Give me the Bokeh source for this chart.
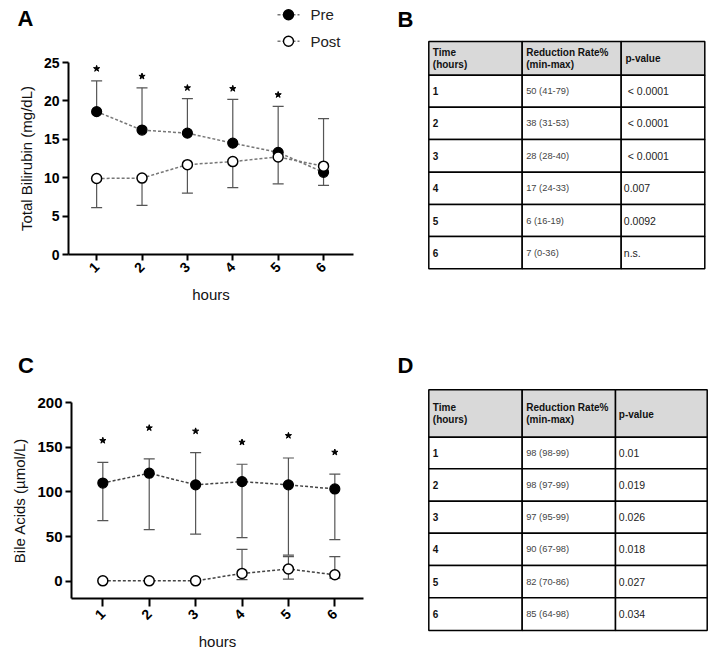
import math
from bokeh.plotting import figure
from bokeh.layouts import column, row
from bokeh.models import Range1d, FixedTicker
from bokeh.embed import file_html
from bokeh.resources import INLINE
from bokeh.core.properties import value

FONT = "Liberation Sans"

# ---------------- data ----------------
hours = [1, 2, 3, 4, 5, 6]
hour_labels = ["1", "2", "3", "4", "5", "6"]
series_names = ["Pre", "Post"]

# Panel A: Total bilirubin (mg/dL)
tb_pre = [18.6, 16.2, 15.8, 14.5, 13.3, 10.7]
tb_pre_lo = [18.6, 16.2, 15.8, 14.5, 13.3, 9.0]
tb_pre_hi = [22.6, 21.7, 20.3, 20.2, 19.3, 10.7]
tb_post = [9.9, 9.95, 11.7, 12.1, 12.7, 11.5]
tb_post_lo = [6.1, 6.4, 8.0, 8.7, 9.2, 11.5]
tb_post_hi = [9.9, 9.95, 11.7, 12.1, 12.7, 17.7]
tb_star_hours = [1, 2, 3, 4, 5]
tb_star_y = [24.2, 23.2, 21.7, 21.6, 20.8]
tb_yticks = [0, 5, 10, 15, 20, 25]

# Panel C: Bile acids (umol/L)
ba_pre = [110.0, 121.0, 108.0, 111.6, 108.0, 103.4]
ba_pre_lo = [68.0, 58.0, 53.0, 49.0, 29.5, 46.7]
ba_pre_hi = [133.0, 137.0, 144.0, 131.0, 138.0, 120.0]
ba_post = [0.7, 0.7, 0.7, 9.0, 13.9, 7.5]
ba_post_lo = [0.7, 0.7, 0.7, 2.0, 2.7, 3.8]
ba_post_hi = [0.7, 0.7, 0.7, 36.0, 27.7, 27.7]
ba_star_hours = [1, 2, 3, 4, 5, 6]
ba_star_y = [157.5, 171.6, 168.0, 155.6, 163.0, 144.4]
ba_yticks = [0, 50, 100, 150, 200]

# Tables
tab_header = [["Time", "(hours)"], ["Reduction Rate%", "(min-max)"], ["p-value"]]
b_time = ["1", "2", "3", "4", "5", "6"]
b_rate = ["50 (41-79)", "38 (31-53)", "28 (28-40)", "17 (24-33)", "6 (16-19)", "7 (0-36)"]
b_p = ["< 0.0001", "< 0.0001", "< 0.0001", "0.007", "0.0092", "n.s."]
d_time = ["1", "2", "3", "4", "5", "6"]
d_rate = ["98 (98-99)", "98 (97-99)", "97 (95-99)", "90 (67-98)", "82 (70-86)", "85 (64-98)"]
d_p = ["0.01", "0.019", "0.026", "0.018", "0.027", "0.034"]

TF = value(FONT)


def caps(xs, means, ends):
    cx, cy = [], []
    for x, m, e in zip(xs, means, ends):
        if abs(m - e) > 1e-9:
            cx.append(x)
            cy.append(e)
    return cx, cy


def blank(width, height):
    p = figure(width=width, height=height, output_backend="svg", toolbar_location=None,
               x_range=Range1d(0, width), y_range=Range1d(height, 0),
               x_axis_location=None, y_axis_location=None)
    p.min_border = 0
    p.min_border_left = p.min_border_right = p.min_border_top = p.min_border_bottom = 0
    p.outline_line_color = None
    p.grid.grid_line_color = None
    return p


def letter(p, x, y, s):
    p.text(x=[x], y=[y], text=[s], text_font=TF, text_font_style="bold",
           text_font_size="22px", text_align="center", text_baseline="middle",
           text_color="black")


def make_header(width, height, letter_xy, legend_xy=None, line_color="#777777"):
    p = blank(width, height)
    letter(p, *letter_xy)
    if legend_xy is not None:
        gx, gy0, gdy = legend_xy
        ys = [gy0, gy0 + gdy]
        p.segment(x0=[gx, gx], y0=ys, x1=[gx + 22, gx + 22], y1=ys,
                  line_color=line_color, line_width=1.5, line_dash="3 2")
        p.scatter([gx + 11, gx + 11], ys, marker="circle", size=10,
                  fill_color=["black", "white"], line_color="black", line_width=1.4)
        p.text(x=[gx + 33, gx + 33], y=ys, text=series_names, text_font=TF,
               text_font_size="15px", text_align="left", text_baseline="middle",
               text_color="#222222")
    return p


def make_chart(width, height, borders, xr, yr, yticks, ylabel, pre, pre_lo, pre_hi,
               post, post_lo, post_hi, star_x, star_y, line_color,
               tick_font="14px", xtick_out=6, xstandoff=4):
    p = figure(width=width, height=height, output_backend="svg", toolbar_location=None,
               x_range=Range1d(*xr), y_range=Range1d(*yr))
    p.min_border_left, p.min_border_right, p.min_border_top, p.min_border_bottom = borders
    p.outline_line_color = None
    p.grid.grid_line_color = None

    p.xaxis.ticker = FixedTicker(ticks=hours)
    p.xaxis.major_label_overrides = {h: l for h, l in zip(hours, hour_labels)}
    p.yaxis.ticker = FixedTicker(ticks=yticks)
    p.xaxis.major_label_orientation = math.pi / 4
    p.axis.axis_line_width = 2
    p.axis.axis_line_color = "black"
    p.axis.major_tick_line_width = 2
    p.axis.major_tick_line_color = "black"
    p.yaxis.major_tick_out = 6
    p.xaxis.major_tick_out = xtick_out
    p.axis.major_tick_in = 0
    p.axis.minor_tick_line_color = None
    p.axis.major_label_text_font = FONT
    p.axis.major_label_text_font_style = "bold"
    p.yaxis.major_label_text_font_size = tick_font
    p.xaxis.major_label_text_font_size = "14px"
    p.axis.major_label_text_color = "black"
    p.yaxis.major_label_standoff = 3
    p.xaxis.major_label_standoff = xstandoff
    p.axis.axis_label_text_font = FONT
    p.axis.axis_label_text_font_style = "normal"
    p.axis.axis_label_text_font_size = "15px"
    p.axis.axis_label_text_color = "#111111"
    p.xaxis.axis_label = "hours"
    p.yaxis.axis_label = ylabel
    p.yaxis.axis_label_standoff = 6
    p.xaxis.axis_label_standoff = 6

    p.line(hours, pre, line_color=line_color, line_width=1.5, line_dash="3 2")
    p.line(hours, post, line_color=line_color, line_width=1.5, line_dash="3 2")

    ebc = "#555555"
    p.segment(x0=hours, y0=pre_lo, x1=hours, y1=pre_hi, line_color=ebc, line_width=1.2)
    p.segment(x0=hours, y0=post_lo, x1=hours, y1=post_hi, line_color=ebc, line_width=1.2)
    for m, e in ((pre, pre_lo), (pre, pre_hi), (post, post_lo), (post, post_hi)):
        cx, cy = caps(hours, m, e)
        p.scatter(cx, cy, marker="dash", size=11, line_color=ebc, line_width=1.2)

    p.scatter(hours, pre, marker="circle", size=10, fill_color="black",
              line_color="black", line_width=1.2)
    p.scatter(hours, post, marker="circle", size=10, fill_color="white",
              line_color="black", line_width=1.5)

    p.scatter(star_x, star_y, marker="star", size=6.5, fill_color="black", line_color="black")
    return p


def make_table(width, height, letter_xy, cols, top, header_bottom, row_bottoms,
               time, rate, pval, pval_pad, header_p_dx):
    p = blank(width, height)
    letter(p, *letter_xy)

    p.quad(left=cols[:-1], right=cols[1:], top=[top] * 3, bottom=[header_bottom] * 3,
           fill_color="#d9d9d9", line_color="black", line_width=1.5)
    tops = [header_bottom] + row_bottoms[:-1]
    L, R, T, B = [], [], [], []
    for t, b in zip(tops, row_bottoms):
        for i in range(3):
            L.append(cols[i]); R.append(cols[i + 1]); T.append(t); B.append(b)
    p.quad(left=L, right=R, top=T, bottom=B, fill_color="white", line_color="black",
           line_width=1.5)

    hc = (top + header_bottom) / 2
    hx, hy, ht = [], [], []
    for i, lines in enumerate(tab_header):
        if len(lines) == 2:
            for j, s in enumerate(lines):
                hx.append(cols[i] + 4); hy.append(hc - 6.2 + 12.4 * j); ht.append(s)
        else:
            hx.append(cols[i] + header_p_dx); hy.append(hc + 0.5); ht.append(lines[0])
    p.text(x=hx, y=hy, text=ht, text_font=TF, text_font_style="bold",
           text_font_size="10px", text_align="left", text_baseline="middle",
           text_color="#111111")

    rc = [(t + b) / 2 for t, b in zip(tops, row_bottoms)]
    p.text(x=[cols[0] + 4] * len(time), y=rc, text=time, text_font=TF,
           text_font_style="bold", text_font_size="10px", text_align="left",
           text_baseline="middle", text_color="#111111")
    p.text(x=[cols[1] + 4] * len(rate), y=rc, text=rate, text_font=TF,
           text_font_size="9.3px", text_align="left", text_baseline="middle",
           text_color="#444444")
    p.text(x=[cols[2] + d for d in pval_pad], y=rc, text=pval, text_font=TF,
           text_font_size="10.5px", text_align="left", text_baseline="middle",
           text_color="#222222")
    return p


hA = make_header(375, 50, (25, 17.5, "A"), (277, 14.3, 26.4), "#777777")
pA = make_chart(375, 280, (68, 22, 12, 76), (0.38, 6.66), (0, 25), tb_yticks,
                "Total Bilirubin (mg/dL)", tb_pre, tb_pre_lo, tb_pre_hi,
                tb_post, tb_post_lo, tb_post_hi, tb_star_hours, tb_star_y, "#777777",
                tick_font="14px", xtick_out=6, xstandoff=4)
hC = make_header(375, 60, (25.5, 34.5, "C"))
pC = make_chart(375, 273, (71, 12, 12, 65), (0.325, 6.618), (-19, 200), ba_yticks,
                "Bile Acids (\u00b5mol/L)", ba_pre, ba_pre_lo, ba_pre_hi,
                ba_post, ba_post_lo, ba_post_hi, ba_star_hours, ba_star_y, "#444444",
                tick_font="15px", xtick_out=8, xstandoff=5)

pB = make_table(334, 330, (30, 18.5, "B"), [53.3, 146.7, 245.7, 329.3], 41, 74.7,
                [106.7, 139, 171.7, 204, 236, 268.3], b_time, b_rate, b_p,
                [6.6, 6.6, 6.6, 2.6, 2.6, 2.6], 4.3)
pD = make_table(334, 333, (30, 34.5, "D"), [53.3, 146.7, 240, 331.7], 59.3, 106.7,
                [138.3, 170.7, 202.7, 235, 267.3, 300], d_time, d_rate, d_p,
                [3.3] * 6, 3.3)

layout = row(column(row(hA), row(pA), row(hC), row(pC)),
             column(row(pB), row(pD)))
open("out.html", "w").write(file_html(layout, INLINE))
